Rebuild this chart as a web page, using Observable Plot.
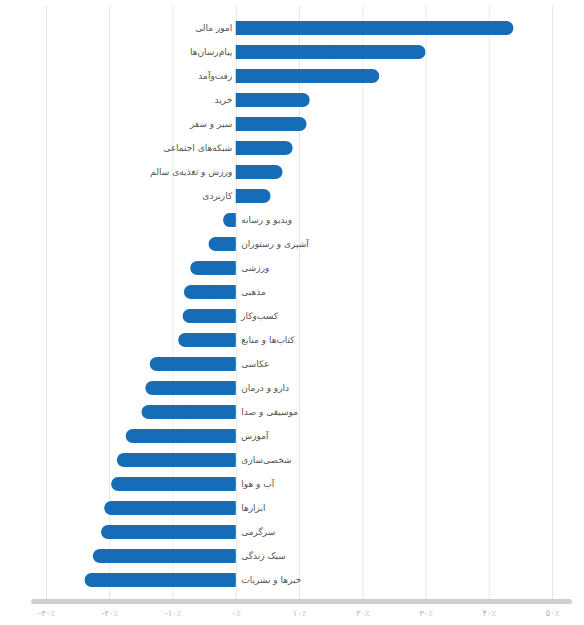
<!DOCTYPE html>
<html>
<head>
<meta charset="utf-8">
<script src="https://cdn.jsdelivr.net/npm/d3@7"></script>
<script src="https://cdn.jsdelivr.net/npm/@observablehq/plot@0.6"></script>
<style>
  html, body { margin: 0; padding: 0; background: #fff; }
  #chart { width: 584px; }
</style>
</head>
<body>
<div id="chart"></div>
<script>
const categories = [
  "امور مالی", "پیام‌رسان‌ها", "رفت‌وآمد", "خرید", "سیر و سفر",
  "شبکه‌های اجتماعی", "ورزش و تغذیه‌ی سالم", "کاربردی", "ویدیو و رسانه",
  "آشپزی و رستوران", "ورزشی", "مذهبی", "کسب‌وکار", "کتاب‌ها و منابع",
  "عکاسی", "دارو و درمان", "موسیقی و صدا", "آموزش", "شخصی‌سازی",
  "آب و هوا", "ابزارها", "سرگرمی", "سبک زندگی", "خبرها و نشریات"
];
const values = [
  43.9, 30.0, 22.7, 11.7, 11.2,
  9.0, 7.4, 5.5, -2.0,
  -4.3, -7.2, -8.2, -8.4, -9.1,
  -13.6, -14.3, -14.9, -17.4, -18.8,
  -19.7, -20.8, -21.3, -22.6, -23.9
];
const tickValues = [-30, -20, -10, 0, 10, 20, 30, 40, 50];
const tickLabels = ["-۳۰٪", "-۲۰٪", "-۱۰٪", "۰٪", "۱۰٪", "۲۰٪", "۳۰٪", "۴۰٪", "۵۰٪"];

const data = categories.map((c, i) => ({category: c, value: values[i]}));
const labelOf = new Map(tickValues.map((t, i) => [t, tickLabels[i]]));
const barColor = "#176db5";

const chart = Plot.plot({
  width: 584,
  height: 625,
  marginLeft: 46,
  marginRight: 32,
  marginTop: 14,
  marginBottom: 32,
  style: {fontFamily: "'DejaVu Sans', sans-serif", background: "#fff"},
  x: {domain: [-30, 50], ticks: tickValues},
  y: {domain: categories, padding: 0.42, paddingOuter: 0.21, axis: null},
  marks: [
    Plot.gridX(tickValues, {stroke: "#e6e6e6", strokeOpacity: 1, strokeWidth: 1, insetTop: -9, insetBottom: -6}),
    Plot.frame({anchor: "bottom", stroke: "#cfcfcf", strokeWidth: 5, strokeLinecap: "round", insetLeft: -13, insetRight: -17, insetBottom: -8}),
    Plot.axisX(tickValues, {
      anchor: "bottom", tickSize: 0, tickPadding: 16, fontSize: 8.5, fill: "#b5b5b5",
      tickFormat: d => labelOf.get(d), label: null
    }),
    Plot.barX(data, {x1: 0, x2: "value", y: "category", fill: barColor, rx: 7}),
    Plot.barX(data, {x1: 0, x2: d => d.value / 2, y: "category", fill: barColor}),
    Plot.text(data.filter(d => d.value >= 0), {
      x: 0, y: "category", text: "category", textAnchor: "end", dx: -4,
      fontSize: 9, fill: "#555"
    }),
    Plot.text(data.filter(d => d.value < 0), {
      x: 0, y: "category", text: "category", textAnchor: "start", dx: 5,
      fontSize: 9, fill: "#555"
    })
  ]
});
document.getElementById("chart").appendChild(chart);
</script>
</body>
</html>
